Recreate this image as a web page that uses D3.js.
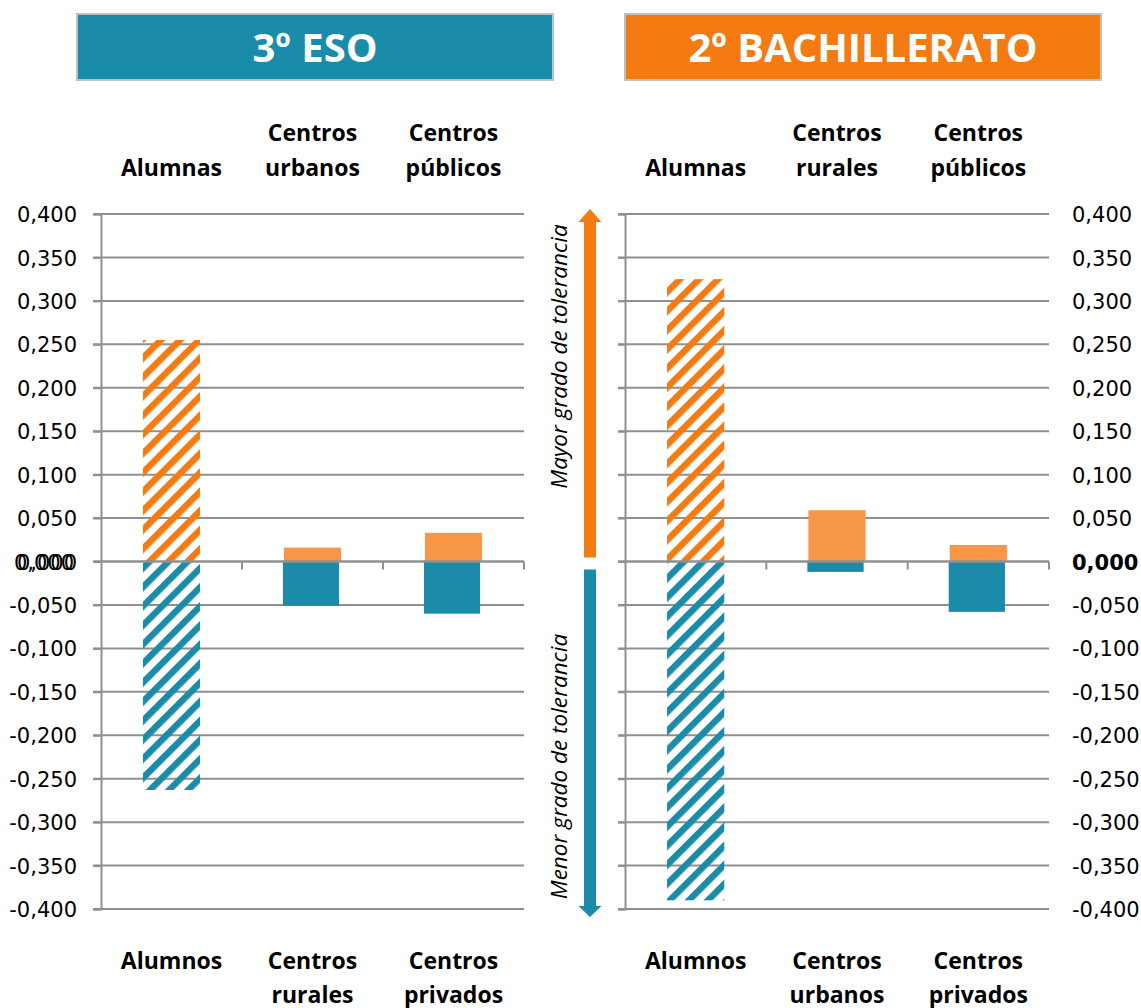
<!DOCTYPE html>
<html>
<head>
<meta charset="utf-8">
<script src="https://cdn.jsdelivr.net/npm/d3@7"></script>
<style>
  body { margin: 0; background: #fff; }
  .tick text { font-family: "DejaVu Sans", sans-serif; font-size: 21px; fill: #000; }
  .cat { font-family: "Open Sans", sans-serif; font-weight: bold; font-size: 23px; fill: #000; }
  .title { font-family: "Open Sans", sans-serif; font-weight: bold; font-size: 40px; fill: #fff; }
  .note { font-family: "Open Sans", sans-serif; font-style: italic; font-size: 22.5px; fill: #000; }
</style>
</head>
<body>
<div id="chart"></div>
<script>
// ---- data ----
var panels = ["3º ESO", "2º BACHILLERATO"];

var esoTopCats = [["Alumnas"], ["Centros", "urbanos"], ["Centros", "públicos"]];
var esoBottomCats = [["Alumnos"], ["Centros", "rurales"], ["Centros", "privados"]];
var esoPositive = [0.255, 0.016, 0.033];
var esoNegative = [-0.263, -0.051, -0.060];

var bachTopCats = [["Alumnas"], ["Centros", "rurales"], ["Centros", "públicos"]];
var bachBottomCats = [["Alumnos"], ["Centros", "urbanos"], ["Centros", "privados"]];
var bachPositive = [0.325, 0.059, 0.019];
var bachNegative = [-0.390, -0.012, -0.058];

// first bar of each panel is drawn hatched
var hatched = [true, false, false];

var yTicks = [-0.4, -0.35, -0.3, -0.25, -0.2, -0.15, -0.1, -0.05, 0, 0.05, 0.1, 0.15, 0.2, 0.25, 0.3, 0.35, 0.4];

var arrowLabels = ["Mayor grado de tolerancia", "Menor grado de tolerancia"];

// ---- colours ----
var teal = "#1a8ba9", orange = "#f47a12", lightOrange = "#f79646", grid = "#909090";

var width = 1141, height = 1008;

var svg = d3.select("#chart").append("svg")
    .attr("width", width)
    .attr("height", height);

var defs = svg.append("defs");
[["hatchOrange", orange], ["hatchTeal", teal]].forEach(function(p) {
  var pat = defs.append("pattern")
      .attr("id", p[0])
      .attr("patternUnits", "userSpaceOnUse")
      .attr("width", 13.5)
      .attr("height", 13.5)
      .attr("patternTransform", "rotate(45)");
  pat.append("rect")
      .attr("width", 6.5)
      .attr("height", 13.5)
      .attr("fill", p[1]);
});

var y = d3.scaleLinear().domain([-0.4, 0.4]).range([909, 214]);

var locale = d3.formatLocale({decimal: ",", thousands: ".", grouping: [3], currency: ["", "€"], minus: "-"});
var fmt = locale.format(".3f");

function drawPanel(opts) {
  var g = svg.append("g");

  // title box
  g.append("rect")
      .attr("x", opts.boxX).attr("y", 14)
      .attr("width", 476).attr("height", 66)
      .attr("fill", opts.boxColor)
      .attr("stroke", "#c0c0c0").attr("stroke-width", 2);
  g.append("text")
      .attr("class", "title")
      .attr("x", opts.boxX + 238).attr("y", 62)
      .attr("text-anchor", "middle")
      .text(opts.title);

  var x = d3.scaleBand().domain([0, 1, 2]).range([opts.x0, opts.x1]);
  var bw = x.bandwidth() * 0.405;
  var bx = function(i) { return x(i) + (x.bandwidth() - bw) / 2; };

  // gridlines
  g.selectAll(".grid")
    .data(yTicks.filter(function(d) { return d !== 0; }))
    .enter().append("line")
      .attr("x1", opts.gx0).attr("x2", opts.gx1)
      .attr("y1", function(d) { return y(d); })
      .attr("y2", function(d) { return y(d); })
      .attr("stroke", grid).attr("stroke-width", 2);

  // bars
  g.selectAll(".pos")
    .data(opts.pos)
    .enter().append("rect")
      .attr("x", function(d, i) { return bx(i); })
      .attr("width", bw)
      .attr("y", function(d) { return y(d); })
      .attr("height", function(d) { return y(0) - y(d); })
      .attr("fill", function(d, i) { return hatched[i] ? "url(#hatchOrange)" : lightOrange; });

  g.selectAll(".neg")
    .data(opts.neg)
    .enter().append("rect")
      .attr("x", function(d, i) { return bx(i) - (hatched[i] ? 0 : 1); })
      .attr("width", function(d, i) { return hatched[i] ? bw : bw - 1; })
      .attr("y", y(0))
      .attr("height", function(d) { return y(d) - y(0); })
      .attr("fill", function(d, i) { return hatched[i] ? "url(#hatchTeal)" : teal; });

  // vertical axis line with outward ticks
  var yAxis = d3.axisLeft(y).tickValues(yTicks).tickSize(opts.x0 - opts.gx0).tickFormat("");
  var ya = g.append("g").attr("transform", "translate(" + opts.x0 + ",0)").call(yAxis);
  ya.selectAll("line, path").attr("stroke", grid).attr("stroke-width", 2);

  // zero axis with category ticks
  var xAxis = d3.axisBottom(x).tickValues([]).tickSizeOuter(0);
  var xa = g.append("g").attr("transform", "translate(0," + y(0) + ")").call(xAxis);
  xa.select("path").remove();
  xa.append("line")
      .attr("x1", opts.gx0).attr("x2", opts.gx1)
      .attr("stroke", grid).attr("stroke-width", 2.5);
  xa.selectAll(".ctick")
    .data([0, 1, 2])
    .enter().append("line")
      .attr("x1", function(d) { return x(d) + x.bandwidth(); })
      .attr("x2", function(d) { return x(d) + x.bandwidth(); })
      .attr("y1", 0).attr("y2", 8)
      .attr("stroke", grid).attr("stroke-width", 2);

  // value labels
  var labelAxis = opts.labelsRight
      ? d3.axisRight(y).tickValues(yTicks).tickSize(0).tickPadding(23).tickFormat(fmt)
      : d3.axisLeft(y).tickValues(yTicks).tickSize(0).tickPadding(24).tickFormat(fmt);
  var la = g.append("g")
      .attr("transform", "translate(" + (opts.labelsRight ? opts.gx1 : opts.x0) + ",0)")
      .call(labelAxis);
  la.select(".domain").remove();
  la.selectAll(".tick text").attr("dy", "0.36em");
  if (opts.labelsRight) {
    la.selectAll(".tick").filter(function(d) { return d === 0; })
      .select("text").style("font-weight", "bold");
  } else {
    // zero label appears doubled in the original
    la.selectAll(".tick").filter(function(d) { return d === 0; })
      .append("text")
        .attr("x", -27).attr("dy", "0.36em")
        .attr("fill", "#000").attr("text-anchor", "end")
        .text(fmt(0));
  }

  // category labels
  function catLabels(cats, baseY, lastLine) {
    cats.forEach(function(lines, i) {
      var t = g.append("text")
          .attr("class", "cat")
          .attr("text-anchor", "middle")
          .attr("x", x(i) + x.bandwidth() / 2);
      lines.forEach(function(s, j) {
        var yy = lastLine ? baseY - (lines.length - 1 - j) * 35 : baseY + j * 34;
        t.append("tspan").attr("x", x(i) + x.bandwidth() / 2).attr("y", yy).text(s);
      });
    });
  }
  catLabels(opts.topCats, 176, true);
  catLabels(opts.bottomCats, 969, false);
}

drawPanel({
  title: panels[0], boxX: 77, boxColor: teal,
  x0: 101, x1: 524, gx0: 93, gx1: 524,
  pos: esoPositive, neg: esoNegative,
  topCats: esoTopCats, bottomCats: esoBottomCats,
  labelsRight: false
});

drawPanel({
  title: panels[1], boxX: 625, boxColor: orange,
  x0: 625, x1: 1049, gx0: 618, gx1: 1049,
  pos: bachPositive, neg: bachNegative,
  topCats: bachTopCats, bottomCats: bachBottomCats,
  labelsRight: true
});

// tolerance arrows between the panels
var ax = 590;
var arrow = svg.append("g");
function arrowPath(tipY, baseY, tailY) {
  return "M" + (ax - 6) + "," + tailY +
    "L" + (ax - 6) + "," + baseY +
    "L" + (ax - 11.5) + "," + baseY +
    "L" + ax + "," + tipY +
    "L" + (ax + 11.5) + "," + baseY +
    "L" + (ax + 6) + "," + baseY +
    "L" + (ax + 6) + "," + tailY + "Z";
}
arrow.append("path")
    .attr("d", arrowPath(y(0.4) - 5, y(0.4) + 8, y(0) - 4))
    .attr("fill", orange);
arrow.append("path")
    .attr("d", arrowPath(y(-0.4) + 8, y(-0.4) - 3, y(0) + 8))
    .attr("fill", teal);

arrow.append("text")
    .attr("class", "note")
    .attr("text-anchor", "middle")
    .attr("transform", "translate(567," + (y(0) - 205) + ") rotate(-90)")
    .text(arrowLabels[0]);
arrow.append("text")
    .attr("class", "note")
    .attr("text-anchor", "middle")
    .attr("transform", "translate(567," + (y(0) + 205) + ") rotate(-90)")
    .text(arrowLabels[1]);
</script>
</body>
</html>
